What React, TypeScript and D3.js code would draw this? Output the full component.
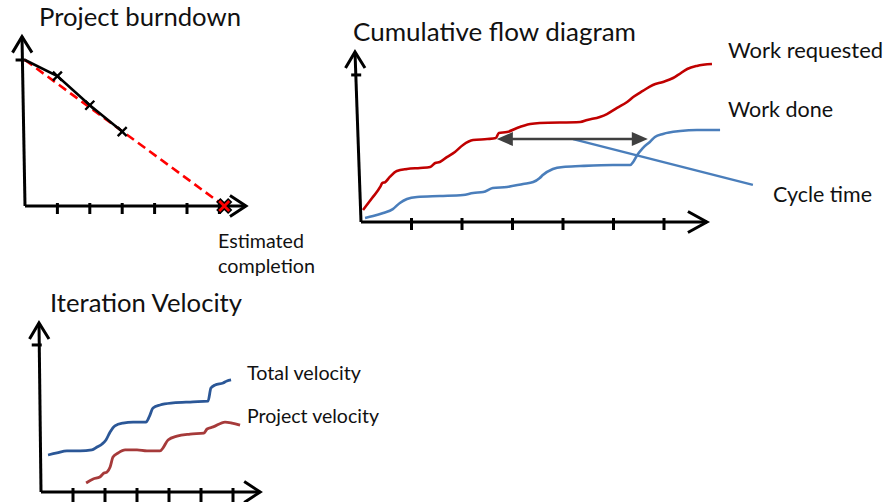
import React from 'react';
import * as d3 from 'd3';

const W = 884;
const H = 502;
const FONT = 'Lato, "Open Sans", sans-serif';

// project burndown: iteration -> remaining work
const burnIterations = [0, 1, 2, 3];
const burnRemaining = [100, 89, 69, 51];
const burnCompletion = 6.15; // estimated completion iteration
const burnTicks = [1, 2, 3, 4, 5, 6];

// cumulative flow diagram: [time, cumulative items]
const cfdRequested: [number, number][] = [
  [0.04, 7.1], [0.22, 14.1], [0.38, 20.6], [0.42, 22.9], [0.48, 23.5], [0.57, 26.5],
  [0.71, 30.0], [0.91, 31.2], [1.17, 31.8], [1.37, 32.4], [1.47, 34.7], [1.56, 35.3],
  [1.7, 38.2], [1.86, 41.2], [2.02, 45.3], [2.22, 48.2], [2.5, 48.8], [2.67, 49.4],
  [2.73, 52.4], [2.89, 52.9], [3.09, 55.3], [3.35, 57.6], [3.54, 58.2], [4.34, 58.8],
  [4.48, 60.0], [4.73, 61.8], [4.87, 63.5], [5.07, 67.1], [5.27, 70.6], [5.39, 73.5],
  [5.58, 77.1], [5.78, 80.6], [5.98, 82.4], [6.18, 84.7], [6.28, 86.5], [6.46, 90.0],
  [6.65, 91.8], [6.95, 92.9]
];
const cfdDone: [number, number][] = [
  [0.08, 2.4], [0.24, 3.5], [0.44, 5.3], [0.63, 7.6], [0.77, 11.2], [0.91, 13.5],
  [1.11, 14.7], [1.56, 15.3], [2.02, 15.9], [2.22, 17.1], [2.42, 17.6], [2.61, 20.0],
  [2.89, 20.6], [3.21, 22.4], [3.41, 23.5], [3.54, 25.9], [3.6, 27.6], [3.8, 31.2],
  [4.0, 32.4], [4.34, 32.9], [4.99, 33.5], [5.33, 33.5], [5.39, 35.3], [5.47, 39.4],
  [5.58, 43.5], [5.72, 47.1], [5.82, 50.0], [5.98, 51.8], [6.32, 53.5], [6.65, 54.1],
  [7.11, 54.1]
];
const cycleSpan: [number, number][] = [[2.69, 48.8], [5.68, 48.8]];
const cyclePointer: [number, number][] = [[4.2, 48.8], [7.76, 21.8]];
const cfdTicks = [1, 2, 3, 4, 5, 6];

// iteration velocity: [iteration, velocity]
const velTotal: [number, number][] = [
  [0.22, 21.9], [0.5, 23.1], [0.81, 24.3], [1.22, 24.3], [1.59, 24.9], [1.75, 26.6],
  [1.91, 28.4], [2.03, 30.8], [2.16, 35.5], [2.31, 39.1], [2.56, 40.8], [2.88, 41.4],
  [3.28, 41.4], [3.38, 44.4], [3.5, 49.7], [3.72, 51.5], [4.13, 52.7], [4.75, 53.3],
  [5.22, 53.8], [5.31, 61.5], [5.44, 63.3], [5.69, 64.5], [5.81, 65.7], [5.94, 66.3]
];
const velProject: [number, number][] = [
  [1.41, 5.3], [1.63, 7.7], [1.84, 8.9], [1.97, 11.2], [2.06, 11.8], [2.16, 14.8],
  [2.25, 20.7], [2.41, 23.1], [2.63, 24.9], [3.0, 24.9], [3.31, 24.3], [3.72, 24.3],
  [3.81, 26.0], [3.97, 30.8], [4.25, 33.1], [4.66, 34.3], [5.09, 34.9], [5.19, 37.3],
  [5.38, 38.5], [5.75, 41.4], [5.97, 40.8], [6.22, 39.6]
];
const velTicks = [1, 2, 3, 4, 5, 6];

type Scale = d3.ScaleLinear<number, number>;

// hand drawn style axes with open chevron arrow heads
function Axes(props: {
  x: Scale; y: Scale; ticks: number[]; xMax: number; yMax: number;
  slant: number; startValue: number; tickUp: number; tickDown: number; headBack: number;
}) {
  const { x, y, ticks, xMax, yMax, slant, startValue, tickUp, tickDown, headBack } = props;
  const x0 = x(0);
  const y0 = y(0);
  const topX = x0 - slant;
  const topY = y(yMax);
  const tipX = x(xMax);
  const startY = y(startValue);
  const startX = x0 - slant * (startY - topY) / (y0 - topY);
  return (
    <g stroke="#000" strokeWidth={3} fill="none" strokeLinecap="butt" strokeLinejoin="miter">
      <line x1={topX} y1={topY} x2={x0} y2={y0} />
      <polyline points={`${topX - 9.5},${topY + 16} ${topX},${topY} ${topX + 10},${topY + 16}`} />
      <line x1={startX - 9} y1={startY} x2={startX + 1} y2={startY} />
      <line x1={x0} y1={y0} x2={tipX} y2={y0} />
      <polyline points={`${tipX - headBack},${y0 - 10.5} ${tipX},${y0} ${tipX - headBack},${y0 + 10.5}`} />
      {ticks.map((t) => (
        <line key={t} x1={x(t)} y1={y0 - tickUp} x2={x(t)} y2={y0 + tickDown} />
      ))}
    </g>
  );
}

function Label(props: { x: number; y: number; size: number; len: number; children: string }) {
  return (
    <text x={props.x} y={props.y} fontSize={props.size} fontFamily={FONT} fill="#111"
      textLength={props.len} lengthAdjust="spacingAndGlyphs">
      {props.children}
    </text>
  );
}

function cross(cx: number, cy: number, r: number) {
  return `M${cx - r},${cy - r}L${cx + r},${cy + r}M${cx - r},${cy + r}L${cx + r},${cy - r}`;
}

function Burndown() {
  const x = d3.scaleLinear().domain([0, 7]).range([25, 25 + 7 * 32.4]);
  const y = d3.scaleLinear().domain([0, 100]).range([206, 60]);
  const pts: [number, number][] = burnIterations.map((it, i) => [it, burnRemaining[i]]);
  const line = d3.line<[number, number]>().x((d) => x(d[0])).y((d) => y(d[1]));
  const projection: [number, number][] = [pts[0], [burnCompletion, 0]];
  const cx = x(burnCompletion);
  const cy = y(0);
  return (
    <g>
      <Axes x={x} y={y} ticks={burnTicks} xMax={6.82} yMax={116} slant={3}
        startValue={100} tickUp={3} tickDown={8} headBack={16} />
      <path d={line(projection) || ''} stroke="#ff0000" strokeWidth={2.6} strokeDasharray="9 5" fill="none" />
      <path d={line(pts) || ''} stroke="#000" strokeWidth={2.6} fill="none" />
      {pts.slice(1).map((p) => (
        <path key={p[0]} d={cross(x(p[0]), y(p[1]), 4.5)} stroke="#000" strokeWidth={2.4} fill="none" />
      ))}
      <path d={cross(cx, cy, 6)} stroke="#000" strokeWidth={6} fill="none" />
      <path d={cross(cx, cy, 5)} stroke="#ff0000" strokeWidth={2.8} fill="none" />
      <Label x={39} y={26} size={25} len={202}>Project burndown</Label>
      <Label x={218} y={248} size={19} len={86}>Estimated</Label>
      <Label x={218} y={273} size={19} len={97}>completion</Label>
    </g>
  );
}

function CumulativeFlow() {
  const x = d3.scaleLinear().domain([0, 7]).range([361, 361 + 7 * 50.5]);
  const y = d3.scaleLinear().domain([0, 100]).range([222, 52]);
  const line = d3.line<[number, number]>().x((d) => x(d[0])).y((d) => y(d[1])).curve(d3.curveMonotoneX);
  const straight = d3.line<[number, number]>().x((d) => x(d[0])).y((d) => y(d[1]));
  const ax0 = x(cycleSpan[0][0]);
  const ax1 = x(cycleSpan[1][0]);
  const ay = y(cycleSpan[0][1]);
  return (
    <g>
      <Axes x={x} y={y} ticks={cfdTicks} xMax={6.85} yMax={100} slant={6}
        startValue={86.5} tickUp={4} tickDown={8} headBack={19} />
      <path d={line(cfdRequested) || ''} stroke="#c00000" strokeWidth={2.6} fill="none" />
      <path d={line(cfdDone) || ''} stroke="#4a7ebb" strokeWidth={2.6} fill="none" />
      <path d={straight(cyclePointer) || ''} stroke="#4a7ebb" strokeWidth={2.4} fill="none" />
      <line x1={ax0 + 10} y1={ay} x2={ax1 - 10} y2={ay} stroke="#404040" strokeWidth={2.4} />
      <path d={`M${ax0},${ay}L${ax0 + 16},${ay - 7}L${ax0 + 16},${ay + 7}Z`} fill="#404040" />
      <path d={`M${ax1},${ay}L${ax1 - 16},${ay - 7}L${ax1 - 16},${ay + 7}Z`} fill="#404040" />
      <Label x={353} y={41} size={25} len={283}>Cumulative flow diagram</Label>
      <Label x={728} y={58} size={21} len={155}>Work requested</Label>
      <Label x={728} y={117} size={21} len={105}>Work done</Label>
      <Label x={773} y={202} size={21} len={99}>Cycle time</Label>
    </g>
  );
}

function Velocity() {
  const x = d3.scaleLinear().domain([0, 7]).range([41, 41 + 7 * 32]);
  const y = d3.scaleLinear().domain([0, 100]).range([492, 323]);
  const line = d3.line<[number, number]>().x((d) => x(d[0])).y((d) => y(d[1])).curve(d3.curveMonotoneX);
  return (
    <g>
      <Axes x={x} y={y} ticks={velTicks} xMax={6.85} yMax={100} slant={2}
        startValue={87} tickUp={4} tickDown={10} headBack={16} />
      <path d={line(velTotal) || ''} stroke="#2b5797" strokeWidth={2.8} fill="none" />
      <path d={line(velProject) || ''} stroke="#a63a3a" strokeWidth={2.8} fill="none" />
      <Label x={50} y={312} size={25} len={192}>Iteration Velocity</Label>
      <Label x={247} y={380} size={19} len={114}>Total velocity</Label>
      <Label x={247} y={423} size={19} len={132}>Project velocity</Label>
    </g>
  );
}

export default function App() {
  return (
    <svg width={W} height={H} viewBox={`0 0 ${W} ${H}`}
      style={{ position: 'absolute', left: 0, top: 0, display: 'block', background: '#fff' }}>
      <Burndown />
      <CumulativeFlow />
      <Velocity />
    </svg>
  );
}
